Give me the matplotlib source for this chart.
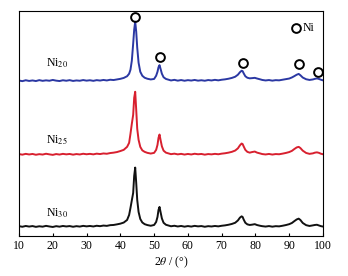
import matplotlib
matplotlib.use("Agg")
import matplotlib.pyplot as plt

plt.rcParams['font.family'] = ['Liberation Serif', 'DejaVu Serif']
plt.rcParams['mathtext.fontset'] = 'stix'

# 2theta grid (deg)
two_theta = [10, 11, 12, 13, 14, 15, 16, 17, 18, 19, 20, 21, 22, 23, 24, 25, 26, 27, 28, 29,
             30, 31, 32, 33, 34, 35, 36, 37, 38,
             39, 40, 41, 42, 42.6, 43.0, 43.4, 43.8, 44.1, 44.4, 44.7, 45.0, 45.4, 45.9, 46.5,
             47.2, 48, 49, 50,
             50.6, 51.0, 51.3, 51.6, 51.9, 52.3, 52.8, 53.5, 54.5,
             55, 56, 57, 58, 59, 60, 61, 62, 63, 64, 65, 66, 67, 68, 69, 70, 71, 72, 73,
             74, 74.8, 75.4, 75.9, 76.2, 76.5, 77.0, 77.6, 78.3, 79.0, 79.8, 80.5, 81.5,
             82, 83, 84, 85, 86, 87, 88, 89, 90,
             90.8, 91.5, 92.2, 92.8, 93.3, 94.0, 95, 96, 97, 97.6, 98.2, 98.8, 99.4, 100]

# intensities (arb. units, stacked)
ni20 = [155.2, 154.6, 155.5, 154.8, 155.3, 154.7, 155.6, 154.9, 155.4, 155.0, 155.8, 155.1, 154.7,
        155.5, 155.0, 155.6, 154.8, 155.3, 155.0, 155.7, 155.1, 155.5, 154.9, 155.6, 155.2, 155.8,
        155.3, 156.0, 155.7,
        156.3, 156.9, 157.8, 159.5, 162, 166, 175, 192, 206, 214, 204, 188, 173, 164, 160,
        158, 157, 156.3, 156.8,
        160, 164, 168.5, 170.6, 167, 162, 158.5, 156.8, 155.8,
        155.3, 155.9, 155.1, 155.7, 155.0, 155.6, 155.2, 155.8, 155.1, 155.5, 155.0, 155.7, 155.3,
        155.9, 155.4, 156.0, 156.4, 157.0, 157.8,
        159, 161, 163.5, 165, 164.6, 162.5, 159.5, 158, 157.4, 157.6, 157.9, 157.2, 156.3,
        155.8, 155.3, 155.7, 155.1, 155.6, 155.4, 156.0, 156.6, 157.2,
        158.3, 159.6, 161, 161.8, 160.5, 158.2, 156.5, 155.8, 156.3, 156.9, 157.3, 156.8, 156.0, 155.4]

ni25 = [81.8, 81.2, 82.0, 81.4, 81.9, 81.1, 81.7, 81.3, 82.1, 81.5, 81.0, 81.8, 81.3, 82.0, 81.5,
        81.9, 81.2, 81.8, 81.4, 82.1, 81.6, 82.0, 81.5, 82.2, 81.8, 82.4, 82.1, 82.8, 83.2,
        83.8, 84.8, 86.0, 89, 93, 102, 112, 121, 138, 144, 126, 107, 96, 89, 85.5,
        84, 83, 82.3, 83.0,
        86, 91, 98, 101.3, 96, 89.5, 85.2, 83.2, 82.2,
        81.7, 82.2, 81.5, 82.0, 81.3, 81.9, 81.4, 82.1, 81.6, 81.9, 81.2, 81.8, 81.5, 82.0, 81.6,
        82.2, 82.6, 83.2, 84.0,
        85.3, 87.5, 90.5, 92.3, 91.8, 89.5, 86, 84, 83.2, 83.8, 84.3, 83.2, 82.3,
        81.8, 81.4, 81.9, 81.3, 81.8, 81.6, 82.2, 82.9, 83.8,
        85, 86.8, 88.4, 89, 87.8, 85.2, 82.9, 82.0, 82.5, 83.2, 83.5, 83.0, 82.1, 81.6]

ni30 = [9.8, 9.2, 10.0, 9.4, 9.9, 9.1, 9.7, 9.3, 10.1, 9.5, 9.0, 9.8, 9.3, 10.0, 9.5, 9.9, 9.2,
        9.8, 9.4, 10.1, 9.6, 10.0, 9.5, 10.2, 9.8, 10.4, 10.1, 10.8, 11.0,
        11.6, 12.3, 13.4, 16, 21, 28, 35.6, 43, 60, 68.3, 53, 36, 24, 17, 13.5,
        11.8, 10.9, 10.2, 11.0,
        14, 19, 26, 29, 24, 17.5, 13.2, 11.2, 10.2,
        9.7, 10.2, 9.5, 10.0, 9.3, 9.9, 9.4, 10.1, 9.6, 9.9, 9.2, 9.8, 9.5, 10.0, 9.6, 10.2,
        10.6, 11.2, 12.0,
        13.2, 15.5, 18.3, 19.6, 19.0, 16.5, 13.2, 11.6, 11.0, 11.3, 11.8, 10.9, 10.1,
        9.8, 9.4, 9.9, 9.3, 9.8, 9.6, 10.2, 10.9, 11.8,
        13, 14.8, 16.5, 17.3, 16, 13, 10.8, 10.0, 10.6, 11.0, 11.2, 10.5, 9.8, 9.4]

# Ni reflections marked with open circles
marker_x = [44.4, 51.6, 76.3, 92.8, 98.5]
marker_y = [218.5, 179, 172.3, 171.3, 163.6]

labels = ["Ni$_{20}$", "Ni$_{25}$", "Ni$_{30}$"]
label_y = [169.6, 92.3, 19.6]

fig = plt.figure(figsize=(3.48, 2.76), dpi=100)
ax = fig.add_axes([0.0546, 0.145, 0.8736, 0.815])

ax.plot(two_theta, ni20, color='#2b38a3', lw=1.4)
ax.plot(two_theta, ni25, color='#d8202f', lw=1.4)
ax.plot(two_theta, ni30, color='#111111', lw=1.4)

ax.plot(marker_x, marker_y, 'o', ms=6.3, mfc='none', mec='black', mew=1.4, clip_on=False)
ax.plot([92.0], [207.9], 'o', ms=6.3, mfc='none', mec='black', mew=1.4)
ax.text(93.9, 207.9, "Ni", fontsize=8.5, va='center', ha='left')

for lab, y in zip(labels, label_y):
    ax.text(18.0, y, lab, fontsize=8.5, va='baseline', ha='left')

ax.set_xlim(10, 100)
ax.set_ylim(0, 224.6)
ax.set_xticks(range(10, 101, 10))
ax.set_yticks([])
ax.tick_params(axis='x', direction='in', length=2.5, width=0.8, labelsize=8.5, pad=3)
for s in ax.spines.values():
    s.set_linewidth(0.8)
ax.set_xlabel(r"2$\theta$ / (°)", fontsize=8.5, labelpad=2)

fig.savefig("out.png", dpi=100)
